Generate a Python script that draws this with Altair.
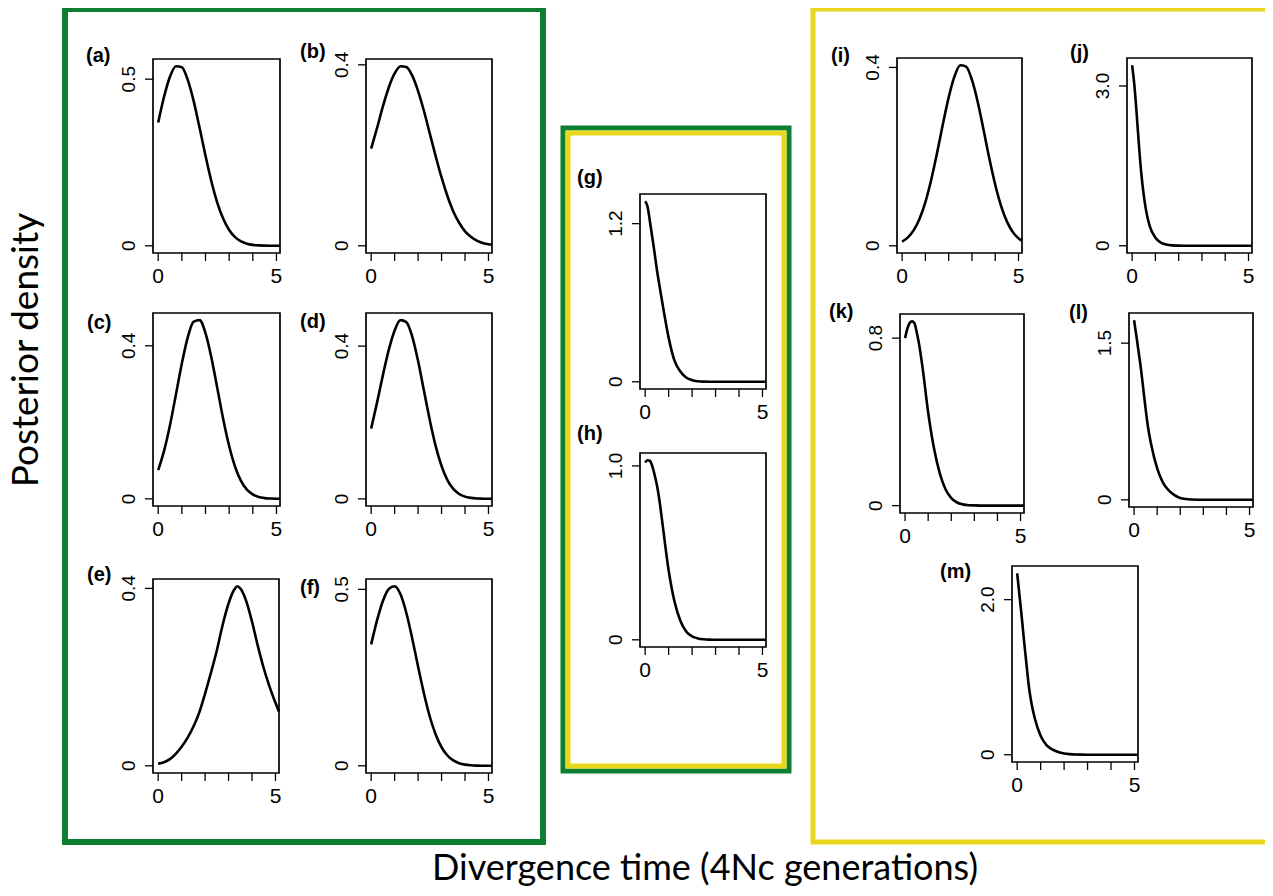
import altair as alt
import pandas as pd

# ---------------- data ----------------
X_COARSE = [0, 0.25, 0.5, 0.75, 1.0, 1.25, 1.5, 1.75, 2.0, 2.25, 2.5, 2.75,
            3.0, 3.25, 3.5, 3.75, 4.0, 4.25, 4.5, 4.75, 5.0, 5.15]
X_FINE = [0, 0.1, 0.2, 0.3, 0.4, 0.5, 0.6, 0.75, 1.0, 1.25, 1.5, 1.75,
          2.0, 2.25, 2.5, 2.75, 3.0, 3.5, 4.0, 4.5, 5.0, 5.15]
X_E = [0, 0.25, 0.5, 0.75, 1.0, 1.25, 1.5, 1.75, 2.0, 2.25, 2.5, 2.75,
       3.0, 3.25, 3.375, 3.5, 3.75, 4.0, 4.25, 4.5, 4.75, 5.0, 5.15]

DENS_A = [0.370, 0.448, 0.508, 0.539, 0.536, 0.498, 0.434, 0.354, 0.270, 0.193, 0.129, 0.081,
          0.0475, 0.026, 0.0134, 0.0065, 0.0029, 0.0012, 0.0005, 0.0002, 0.0001, 0.0]
DENS_B = [0.215, 0.260, 0.308, 0.350, 0.381, 0.397, 0.395, 0.376, 0.342, 0.298, 0.248, 0.198,
          0.151, 0.110, 0.076, 0.051, 0.032, 0.020, 0.0115, 0.0064, 0.0034, 0.0025]
DENS_C = [0.075, 0.126, 0.193, 0.273, 0.354, 0.422, 0.463, 0.467, 0.433, 0.369, 0.289, 0.208,
          0.138, 0.084, 0.047, 0.024, 0.0115, 0.005, 0.002, 0.0008, 0.0003, 0.0002]
DENS_D = [0.184, 0.252, 0.324, 0.390, 0.441, 0.468, 0.463, 0.425, 0.361, 0.283, 0.206, 0.138,
          0.086, 0.049, 0.026, 0.0128, 0.0058, 0.0025, 0.001, 0.0004, 0.0001, 0.0]
DENS_E = [0.005, 0.008, 0.015, 0.027, 0.043, 0.063, 0.088, 0.120, 0.163, 0.210, 0.260, 0.318,
          0.366, 0.398, 0.405, 0.400, 0.372, 0.325, 0.270, 0.220, 0.178, 0.142, 0.122]
DENS_F = [0.344, 0.412, 0.467, 0.501, 0.509, 0.486, 0.433, 0.361, 0.281, 0.205, 0.139, 0.0886,
          0.0526, 0.0292, 0.0152, 0.0074, 0.0033, 0.0014, 0.0005, 0.0002, 0.0001, 0.0]
DENS_G = [1.37, 1.33, 1.22, 1.10, 0.98, 0.85, 0.74, 0.58, 0.335, 0.16, 0.078, 0.032,
          0.012, 0.004, 0.001, 0.0, 0.0, 0.0, 0.0, 0.0, 0.0, 0.0]
DENS_H = [1.02, 1.033, 1.03, 1.0, 0.95, 0.89, 0.81, 0.655, 0.40, 0.22, 0.11, 0.048,
          0.02, 0.008, 0.003, 0.001, 0.0, 0.0, 0.0, 0.0, 0.0, 0.0]
DENS_I = [0.0095, 0.0189, 0.0351, 0.0608, 0.098, 0.148, 0.208, 0.2725, 0.333, 0.380, 0.405, 0.402,
          0.372, 0.322, 0.2595, 0.195, 0.137, 0.0897, 0.0548, 0.0312, 0.0166, 0.011]
DENS_J = [3.39, 3.0, 2.45, 1.85, 1.33, 0.95, 0.66, 0.38, 0.15, 0.055, 0.02, 0.007,
          0.002, 0.001, 0.0, 0.0, 0.0, 0.0, 0.0, 0.0, 0.0, 0.0]
DENS_K = [0.80, 0.845, 0.873, 0.880, 0.872, 0.83, 0.775, 0.665, 0.445, 0.275, 0.155, 0.078,
          0.036, 0.015, 0.006, 0.002, 0.001, 0.0, 0.0, 0.0, 0.0, 0.0]
DENS_L = [1.72, 1.57, 1.41, 1.25, 1.06, 0.87, 0.70, 0.52, 0.30, 0.165, 0.09, 0.045,
          0.018, 0.007, 0.003, 0.001, 0.0, 0.0, 0.0, 0.0, 0.0, 0.0]
DENS_M = [2.34, 2.05, 1.76, 1.45, 1.16, 0.88, 0.68, 0.47, 0.245, 0.125, 0.068, 0.035,
          0.017, 0.008, 0.003, 0.001, 0.0, 0.0, 0.0, 0.0, 0.0, 0.0]

PANEL_IDS = ["a", "b", "c", "d", "e", "f", "g", "h", "i", "j", "k", "l", "m"]
PANEL_X = [X_COARSE, X_COARSE, X_COARSE, X_COARSE, X_E, X_COARSE, X_FINE,
           X_FINE, X_COARSE, X_FINE, X_FINE, X_FINE, X_FINE]
PANEL_Y = [DENS_A, DENS_B, DENS_C, DENS_D, DENS_E, DENS_F, DENS_G,
           DENS_H, DENS_I, DENS_J, DENS_K, DENS_L, DENS_M]
Y_TICK_TOP = [0.5, 0.4, 0.4, 0.4, 0.4, 0.5, 1.2, 1.0, 0.4, 3.0, 0.8, 1.5, 2.0]
Y_TICK_TEXT = ["0.5", "0.4", "0.4", "0.4", "0.4", "0.5", "1.2", "1.0", "0.4", "3.0", "0.8", "1.5", "2.0"]
X_TICKS = [0, 1, 2, 3, 4, 5]
X_LABEL_TICKS = [0, 5]
X_LABEL_TEXT = ["0", "5"]
X_LIMITS = [-0.22, 5.15]

Y_TITLE = "Posterior density"
X_TITLE = "Divergence time (4Nc generations)"

# ---------------- layout (page pixels) ----------------
M0 = 8  # page margin
FRAMES = {  # left, top, right, bottom of each panel box
    "a": (153, 59, 280, 253), "b": (366, 59, 492, 253),
    "c": (153, 313, 280, 506), "d": (366, 313, 492, 506),
    "e": (153, 579, 279, 773), "f": (366, 579, 492, 773),
    "g": (640, 194, 766, 389), "h": (640, 453, 766, 647),
    "i": (897, 58, 1022, 253), "j": (1127, 58, 1252, 253),
    "k": (900, 314, 1024, 513), "l": (1129, 313, 1253, 507),
    "m": (1012, 566, 1138, 762),
}
LABEL_POS = {  # left x, centre y of the panel letters
    "a": (86, 56), "b": (300, 52), "c": (87, 323), "d": (300, 322),
    "e": (87, 575), "f": (300, 588), "g": (577, 178), "h": (577, 434),
    "i": (831, 56), "j": (1070, 53), "k": (829, 312), "l": (1069, 313),
    "m": (940, 572),
}
BOXES = pd.DataFrame({
    "x": [65, 563, 568, 813], "x2": [543, 789, 784, 1270],
    "y": [9, 128, 133, 9], "y2": [842, 771, 766, 842],
    "c": ["#0d7f32", "#0d7f32", "#e8d71c", "#e8d71c"],
    "w": [6, 5, 5, 5],
})
BOXES[["x", "x2", "y", "y2"]] = BOXES[["x", "x2", "y", "y2"]] - M0

TICK_FONT = "Liberation Sans"
TITLE_FONT = "Lato"

one = pd.DataFrame({"k": [0]})


def panel(pid, xs, ys, ytop, ytext):
    L, T, R, B = FRAMES[pid]
    m = max(ys)
    ydom = [-0.04 * m, 1.04 * m]
    xsc = alt.Scale(domain=X_LIMITS, range=[L - M0, R - M0], nice=False, zero=False)
    ysc = alt.Scale(domain=ydom, range=[B - M0, T - M0], nice=False, zero=False)

    frame_df = pd.DataFrame({"x0": [X_LIMITS[0]], "x1": [X_LIMITS[1]],
                             "y0": [ydom[0]], "y1": [ydom[1]]})
    frame = alt.Chart(frame_df).mark_rect(fill="transparent", stroke="black", strokeWidth=1.7).encode(
        x=alt.X("x0:Q", scale=xsc, axis=None), x2="x1:Q",
        y=alt.Y("y0:Q", scale=ysc, axis=None), y2="y1:Q")

    curve = alt.Chart(pd.DataFrame({"t": xs, "d": ys})).mark_line(
        color="black", strokeWidth=2.6, interpolate="monotone").encode(
        x=alt.X("t:Q", scale=xsc, axis=None), y=alt.Y("d:Q", scale=ysc, axis=None))

    xt_df = pd.DataFrame({"t": X_TICKS, "yb": [ydom[0]] * len(X_TICKS)})
    xticks = alt.Chart(xt_df).mark_rule(color="black", strokeWidth=1.3, y2Offset=8).encode(
        x=alt.X("t:Q", scale=xsc, axis=None), y=alt.Y("yb:Q", scale=ysc, axis=None), y2="yb:Q")

    xl_df = pd.DataFrame({"t": X_LABEL_TICKS, "lab": X_LABEL_TEXT, "yb": [ydom[0]] * 2})
    xlabels = alt.Chart(xl_df).mark_text(font=TICK_FONT, fontSize=21, baseline="middle",
                                         align="center", yOffset=24, color="black").encode(
        x=alt.X("t:Q", scale=xsc, axis=None), y=alt.Y("yb:Q", scale=ysc, axis=None), text="lab:N")

    yt_df = pd.DataFrame({"v": [0, ytop], "xl": [X_LIMITS[0]] * 2, "lab": ["0", ytext]})
    yticks = alt.Chart(yt_df).mark_rule(color="black", strokeWidth=1.3, x2Offset=-8).encode(
        x=alt.X("xl:Q", scale=xsc, axis=None), x2="xl:Q", y=alt.Y("v:Q", scale=ysc, axis=None))
    ylabels = alt.Chart(yt_df).mark_text(font=TICK_FONT, fontSize=19, angle=270, align="center",
                                         baseline="alphabetic", xOffset=-18, color="black").encode(
        x=alt.X("xl:Q", scale=xsc, axis=None), y=alt.Y("v:Q", scale=ysc, axis=None), text="lab:N")

    lx, ly = LABEL_POS[pid]
    plabel = alt.Chart(one).mark_text(font=TICK_FONT, fontSize=20, fontWeight="bold", align="left",
                                      baseline="middle", color="black").encode(
        x=alt.value(lx - M0), y=alt.value(ly - M0), text=alt.value(f"({pid})"))

    return alt.layer(frame, curve, xticks, xlabels, yticks, ylabels, plabel)


boxes = alt.Chart(BOXES).mark_rect(fill="transparent").encode(
    x=alt.X("x:Q", scale=None), x2="x2:Q",
    y=alt.Y("y:Q", scale=None), y2="y2:Q",
    stroke=alt.Stroke("c:N", scale=None, legend=None),
    strokeWidth=alt.StrokeWidth("w:Q", scale=None, legend=None))

ytitle = alt.Chart(one).mark_text(font=TITLE_FONT, fontSize=37, angle=270, align="center",
                                  baseline="alphabetic", color="black").encode(
    x=alt.value(38 - M0), y=alt.value(350 - M0), text=alt.value(Y_TITLE))
xtitle = alt.Chart(one).mark_text(font=TITLE_FONT, fontSize=36, align="center",
                                  baseline="alphabetic", color="black").encode(
    x=alt.value(705 - M0), y=alt.value(880 - M0), text=alt.value(X_TITLE))

panels = [panel(p, xs, ys, yt, ytx) for p, xs, ys, yt, ytx in
          zip(PANEL_IDS, PANEL_X, PANEL_Y, Y_TICK_TOP, Y_TICK_TEXT)]

chart = alt.layer(boxes, ytitle, xtitle, *panels).resolve_scale(
    x="independent", y="independent"
).properties(
    width=1257, height=880, autosize=alt.AutoSizeParams(type="none"), padding=0
).configure_view(stroke="transparent")

chart.save("out.html", embed_options={"renderer": "svg", "actions": False})
